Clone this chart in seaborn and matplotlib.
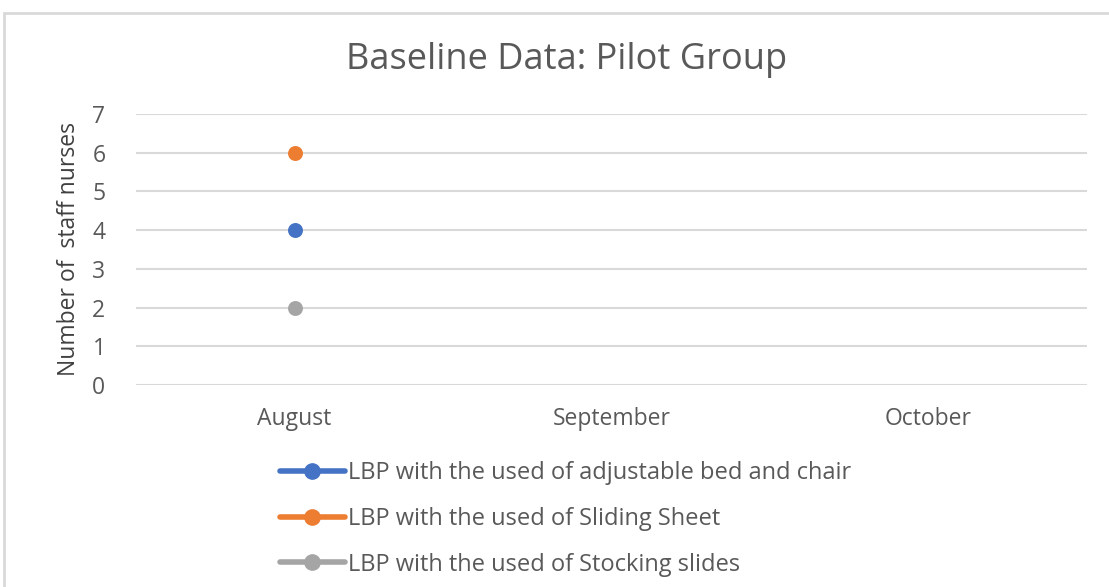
import matplotlib
matplotlib.use("Agg")
import matplotlib.pyplot as plt
import seaborn as sns
import pandas as pd
import numpy as np
from matplotlib.lines import Line2D
from matplotlib.patches import Rectangle

months = ["August", "September", "October"]
series_names = [
    "LBP with the used of adjustable bed and chair",
    "LBP with the used of Sliding Sheet",
    "LBP with the used of Stocking slides",
]
adjustable_bed = [4, np.nan, np.nan]
sliding_sheet = [6, np.nan, np.nan]
stocking_slides = [2, np.nan, np.nan]
colors = ["#4472C4", "#ED7D31", "#A5A5A5"]
yticks = [0, 1, 2, 3, 4, 5, 6, 7]

rows = []
for name, vals in zip(series_names, [adjustable_bed, sliding_sheet, stocking_slides]):
    for m, v in zip(months, vals):
        rows.append({"month": m, "value": v, "series": name})
df = pd.DataFrame(rows)

sns.set_theme(style="white")
plt.rcParams["font.family"] = ["Open Sans", "DejaVu Sans"]

fig = plt.figure(figsize=(11.09, 5.87), dpi=100)
ax = fig.add_axes([136/1109, 1-385/587, (1087-136)/1109, (385-114)/587])

sns.pointplot(data=df, x="month", y="value", hue="series", order=months,
              hue_order=series_names, palette=colors, errorbar=None,
              markers="o", markersize=8.5, linewidth=3, ax=ax, legend=False)

ax.set_xlim(-0.5, 2.5)
ax.set_ylim(0, 7)
ax.set_yticks(yticks)
ax.yaxis.grid(True, color="#D9D9D9", linewidth=1.5)
ax.xaxis.grid(False)
ax.set_axisbelow(True)
for s in ax.spines.values():
    s.set_visible(False)
ax.tick_params(axis="both", length=0, labelsize=16.5, colors="#595959")
ax.tick_params(axis="x", pad=16)
ax.tick_params(axis="y", pad=22)
ax.set_xlabel("")
ax.set_ylabel("Number of  staff nurses", fontsize=16.5, color="#404040", labelpad=8)

fig.text(567/1109, 1-60/587, "Baseline Data: Pilot Group", ha="center", va="center",
         fontsize=26, color="#595959")

handles = [Line2D([0], [0], color=c, lw=4, marker="o", markersize=11,
                  solid_capstyle="round") for c in colors]
fig.legend(handles, series_names, loc="upper left",
           bbox_to_anchor=(268/1109, 1-449/587), frameon=False,
           fontsize=17, labelcolor="#595959", handlelength=2.75,
           handletextpad=0.12, labelspacing=0.93, borderpad=0)

fig.patches.append(Rectangle((4/1109, -0.1), 1.2, 1-13/587+0.1,
                             transform=fig.transFigure, fill=False,
                             edgecolor="#D9D9D9", linewidth=2, zorder=0))

fig.savefig("out.png", dpi=100)
